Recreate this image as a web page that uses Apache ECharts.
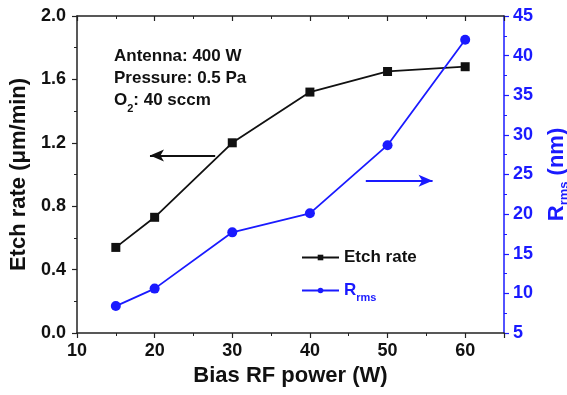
<!DOCTYPE html>
<html>
<head>
<meta charset="utf-8">
<script src="https://cdn.jsdelivr.net/npm/echarts@6/dist/echarts.min.js"></script>
<style>
  html, body { margin: 0; padding: 0; background: #fff; }
  #chart { width: 567px; height: 395px; }
</style>
</head>
<body>
<div id="chart"></div>
<script>
// bias RF power (W)
const power = [15, 20, 30, 40, 50, 60]
// etch rate (um/min), left axis
const etchRate = [0.54, 0.73, 1.2, 1.52, 1.65, 1.68]
// surface roughness Rrms (nm), right axis
const rrms = [8.4, 10.6, 17.7, 20.1, 28.7, 42.0]

// axis ranges
const xRange = [10, 65]
const leftRange = [0, 2.0]
const rightRange = [5, 45]

// arrows telling which axis a curve belongs to: [x1, y1, x2, y2]
const etchArrow = [27.8, 1.12, 19.4, 1.12]
const rrmsArrow = [47.2, 24.2, 55.8, 24.2]

const BLUE = '#1a1aff'
const FONT = '"Liberation Sans", Arial, sans-serif'

const chart = echarts.init(document.getElementById('chart'))

const tickLabel = color => ({
  color, fontFamily: FONT, fontWeight: 'bold', fontSize: 18,
})

chart.setOption({
  animation: false,
  backgroundColor: '#fff',
  grid: { left: 77, right: 63, top: 16, bottom: 62, containLabel: false, outerBoundsMode: 'none' },
  xAxis: [
    {
      type: 'value',
      min: xRange[0],
      max: xRange[1],
      interval: 10,
      name: 'Bias RF power (W)',
      nameLocation: 'middle',
      nameGap: 32,
      nameTextStyle: { color: '#111', fontFamily: FONT, fontWeight: 'bold', fontSize: 22 },
      axisLine: { show: true, lineStyle: { color: '#222', width: 1.5 } },
      axisTick: { show: true, length: 5, lineStyle: { color: '#222', width: 1.2 } },
      minorTick: { show: true, splitNumber: 2, length: 3, lineStyle: { color: '#222', width: 1 } },
      axisLabel: { ...tickLabel('#111'), margin: 9, showMaxLabel: false },
      splitLine: { show: false },
    },
    {
      type: 'value',
      position: 'top',
      min: xRange[0],
      max: xRange[1],
      interval: 10,
      axisLine: { show: true, lineStyle: { color: '#222', width: 1.5 } },
      axisTick: { show: true, inside: true, length: 5, lineStyle: { color: '#222', width: 1.2 } },
      minorTick: { show: true, splitNumber: 2, length: 3, lineStyle: { color: '#222', width: 1 } },
      axisLabel: { show: false },
      splitLine: { show: false },
    },
  ],
  yAxis: [
    {
      type: 'value',
      position: 'left',
      min: leftRange[0],
      max: leftRange[1],
      interval: 0.4,
      name: 'Etch rate (\u03bcm/min)',
      nameLocation: 'middle',
      nameRotate: 90,
      nameGap: 44,
      nameTextStyle: { color: '#111', fontFamily: FONT, fontWeight: 'bold', fontSize: 22 },
      axisLine: { show: true, lineStyle: { color: '#222', width: 1.5 } },
      axisTick: { show: true, length: 5, lineStyle: { color: '#222', width: 1.2 } },
      minorTick: { show: true, splitNumber: 2, length: 3, lineStyle: { color: '#222', width: 1 } },
      axisLabel: { ...tickLabel('#111'), margin: 11, formatter: v => v.toFixed(1) },
      splitLine: { show: false },
    },
    {
      type: 'value',
      position: 'right',
      min: rightRange[0],
      max: rightRange[1],
      interval: 5,
      name: '{r|R}{s|rms}{r| (nm)}',
      nameLocation: 'middle',
      nameRotate: 90,
      nameGap: 35,
      nameTextStyle: {
        rich: {
          r: { color: BLUE, fontFamily: FONT, fontWeight: 'bold', fontSize: 22, lineHeight: 24 },
          s: { color: BLUE, fontFamily: FONT, fontWeight: 'bold', fontSize: 13, lineHeight: 10, padding: [14, 0, 0, 0] },
        },
      },
      axisLine: { show: true, lineStyle: { color: BLUE, width: 1.5 } },
      axisTick: { show: true, length: 5, lineStyle: { color: BLUE, width: 1.2 } },
      minorTick: { show: true, splitNumber: 2, length: 3, lineStyle: { color: BLUE, width: 1 } },
      axisLabel: { ...tickLabel(BLUE), margin: 9 },
      splitLine: { show: false },
    },
  ],
  legend: {
    orient: 'vertical',
    left: 296,
    top: 244,
    itemWidth: 37,
    itemHeight: 7,
    itemGap: 12,
    selectedMode: false,
    data: ['Etch rate', 'Rrms'],
    formatter: name => name === 'Rrms' ? '{b|R}{bs|rms}' : '{k|' + name + '}',
    textStyle: {
      rich: {
        k: { color: '#111', fontFamily: FONT, fontWeight: 'bold', fontSize: 17, lineHeight: 20 },
        b: { color: BLUE, fontFamily: FONT, fontWeight: 'bold', fontSize: 17, lineHeight: 20 },
        bs: { color: BLUE, fontFamily: FONT, fontWeight: 'bold', fontSize: 11, lineHeight: 8, padding: [14, 0, 0, 0] },
      },
    },
  },
  graphic: [
    {
      type: 'text',
      left: 114,
      top: 48,
      style: {
        text: '{a|Antenna: 400 W}\n{a|Pressure: 0.5 Pa}\n{a|O}{s|2}{a|: 40 sccm}',
        rich: {
          a: { fill: '#111', fontFamily: FONT, fontWeight: 'bold', fontSize: 17, lineHeight: 22 },
          s: { fill: '#111', fontFamily: FONT, fontWeight: 'bold', fontSize: 11, lineHeight: 8, padding: [16, 0, 0, 0] },
        },
      },
    },
  ],
  series: [
    {
      name: 'Etch rate',
      type: 'line',
      xAxisIndex: 0,
      yAxisIndex: 0,
      data: power.map((p, i) => [p, etchRate[i]]),
      symbol: 'rect',
      symbolSize: 9,
      lineStyle: { color: '#111', width: 1.8 },
      itemStyle: { color: '#111' },
      markLine: {
        silent: true,
        symbol: ['none', 'arrow'],
        symbolSize: [9, 14],
        label: { show: false },
        lineStyle: { color: '#111', width: 1.8, type: 'solid' },
        data: [[{ coord: [etchArrow[0], etchArrow[1]] }, { coord: [etchArrow[2], etchArrow[3]] }]],
      },
    },
    {
      name: 'Rrms',
      type: 'line',
      xAxisIndex: 0,
      yAxisIndex: 1,
      data: power.map((p, i) => [p, rrms[i]]),
      symbol: 'circle',
      symbolSize: 10,
      lineStyle: { color: BLUE, width: 1.8 },
      itemStyle: { color: BLUE },
      markLine: {
        silent: true,
        symbol: ['none', 'arrow'],
        symbolSize: [9, 14],
        label: { show: false },
        lineStyle: { color: BLUE, width: 1.8, type: 'solid' },
        data: [[{ coord: [rrmsArrow[0], rrmsArrow[1]] }, { coord: [rrmsArrow[2], rrmsArrow[3]] }]],
      },
    },
  ],
})
</script>
</body>
</html>
